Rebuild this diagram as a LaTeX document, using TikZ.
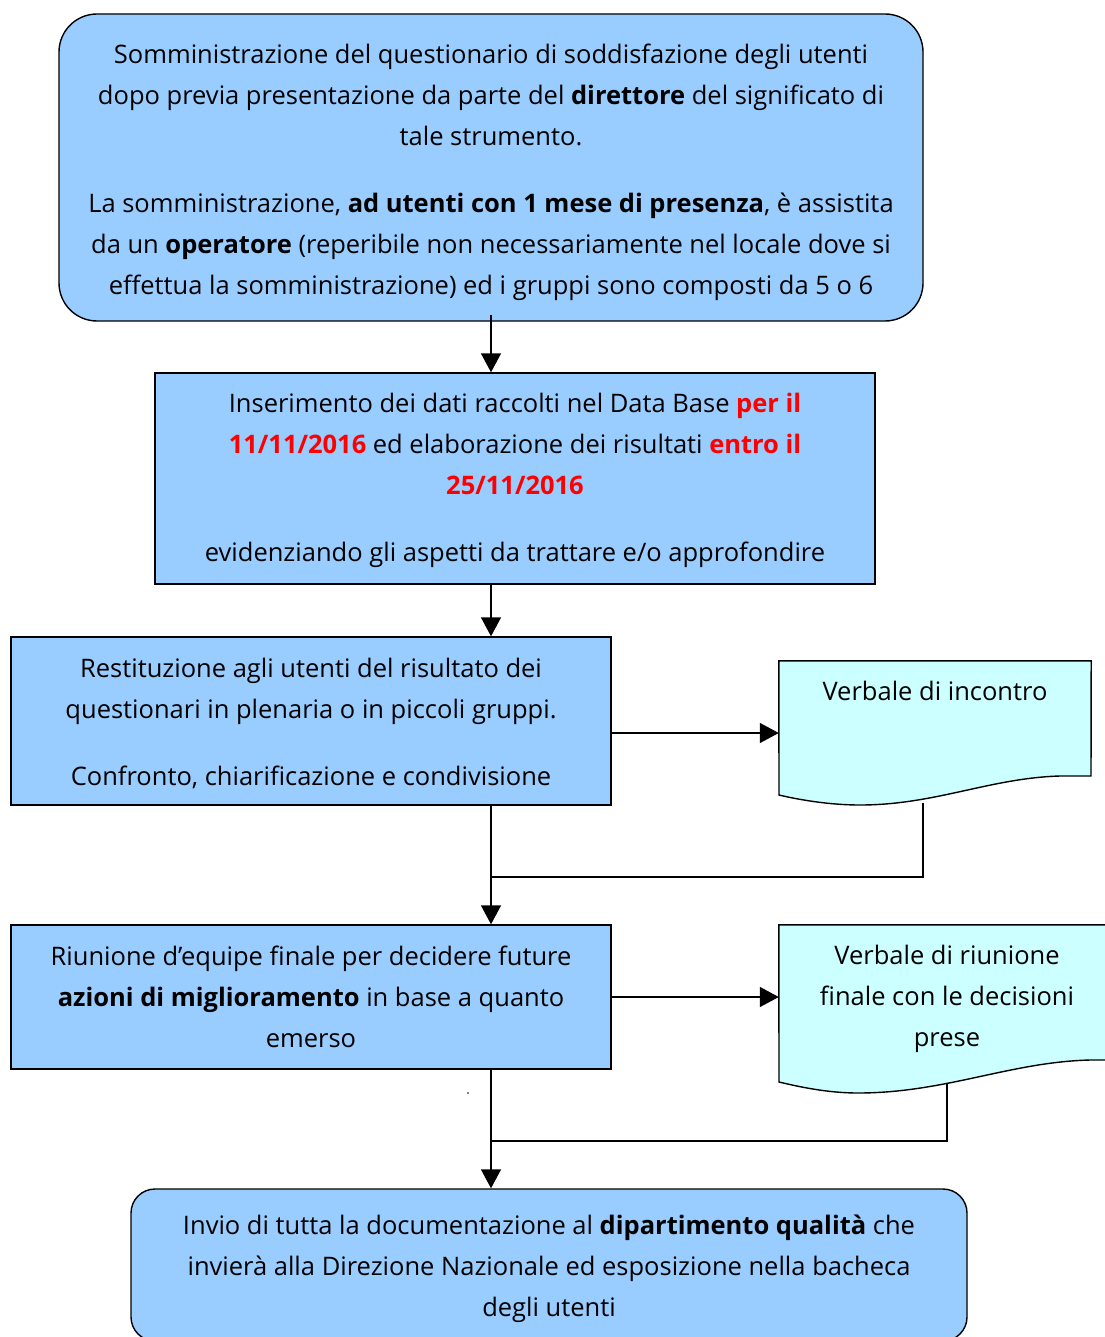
\documentclass[tikz,border=0pt]{standalone}
\usepackage{fontspec}
\setmainfont{Open Sans}
\usetikzlibrary{arrows.meta}
\definecolor{boxblue}{HTML}{99CCFF}
\definecolor{doccyan}{HTML}{CCFFFF}
\definecolor{datered}{HTML}{FF0000}
\newcommand{\rd}[1]{\textcolor{datered}{\textbf{#1}}}
\begin{document}
\begin{tikzpicture}[x=1pt,y=-1pt,
  txt/.style={align=center, inner sep=0pt, font=\fontsize{25.5}{41}\selectfont},
  box/.style={draw=black, line width=1.4pt, fill=boxblue, inner sep=0pt},
  docframe/.style={draw=none, inner sep=0pt},
  docshape/.style={draw=black, line width=1.4pt, fill=doccyan},
  conn/.style={line width=1.4pt},
  arr/.style={conn, -{Triangle[width=20pt,length=19pt]}}]
\useasboundingbox (0,0) rectangle (1104,1337);

% main boxes
\node[box, rounded corners=38pt, minimum width=864pt, minimum height=307pt] (a) at (491,167.5) {};
\node[txt] (at) at ([yshift=-5pt]a.center)
 {Somministrazione del questionario di soddisfazione degli utenti\\
  dopo previa presentazione da parte del \textbf{direttore} del significato di\\
  tale strumento.\\[26pt]
  La somministrazione, \textbf{ad utenti con 1 mese di presenza}, è assistita\\
  da un \textbf{operatore} (reperibile non necessariamente nel locale dove si\\
  effettua la somministrazione) ed i gruppi sono composti da 5 o 6};

\node[box, minimum width=720pt, minimum height=211pt] (b) at (515,478.5) {};
\node[txt] (bt) at ([yshift=-2pt]b.center)
 {Inserimento dei dati raccolti nel Data Base \rd{per il}\\
  \rd{11/11/2016} ed elaborazione dei risultati \rd{entro il}\\
  \rd{25/11/2016}\\[26pt]
  evidenziando gli aspetti da trattare e/o approfondire};

\node[box, minimum width=600pt, minimum height=168pt] (c) at (311,721) {};
\node[txt] (ct) at ([yshift=-2pt]c.center)
 {Restituzione agli utenti del risultato dei\\
  questionari in plenaria o in piccoli gruppi.\\[26pt]
  Confronto, chiarificazione e condivisione};

\node[box, minimum width=600pt, minimum height=144pt] (e) at (311,997) {};
\node[txt] (et) at (e.center)
 {Riunione d’equipe finale per decidere future\\
  \textbf{azioni di miglioramento} in base a quanto\\
  emerso};

\node[box, rounded corners=24pt, minimum width=836pt, minimum height=152pt] (f) at (549,1265) {};
\node[txt] (ft) at ([yshift=-4pt]f.center)
 {Invio di tutta la documentazione al \textbf{dipartimento qualità} che\\
  invierà alla Direzione Nazionale ed esposizione nella bacheca\\
  degli utenti};

% document shapes
\node[docframe, minimum width=312pt, minimum height=144pt] (d1) at (935,733) {};
\draw[docshape] (d1.north west) -- (d1.north east) -- (1091,776) -- (1060,776)
  .. controls (990,778) and (935,805) .. (860,805)
  .. controls (830,805) and (800,800) .. (779,795) -- cycle;
\node[txt, anchor=base] (d1t) at (935,700) {Verbale di incontro};

\node[docframe, minimum width=336pt, minimum height=168pt] (d2) at (947,1009) {};
\draw[docshape] (d2.north west) -- (d2.north east) -- (1115,1060) -- (1090,1060)
  .. controls (1010,1062) and (945,1093) .. (858,1093)
  .. controls (828,1093) and (800,1087) .. (779,1082) -- cycle;
\node[txt] (d2t) at (947,999) {Verbale di riunione\\ finale con le decisioni\\ prese};

% stray dot
\node[circle, fill=black, inner sep=0pt, minimum size=1.6pt] (dot) at (468,1093) {};

% connectors
\coordinate (d1b) at (923,803);
\coordinate (j1) at (491,877);
\coordinate (d2b) at (947,1083);
\coordinate (j2) at (491,1141);

\draw[arr] ([yshift=7pt]a.south) -- (a.south |- b.north);
\draw[arr] (a.south |- b.south) -- (a.south |- c.north);
\draw[arr] (c.east |- d1.west) -- (d1.west);
\draw[arr] (a.south |- c.south) -- (a.south |- e.north);
\draw[conn] (d1b) |- (j1);
\draw[arr] (e.east) -- (d2.west |- e.east);
\draw[arr] (a.south |- e.south) -- (a.south |- f.north);
\draw[conn] (d2b) |- (j2);
\end{tikzpicture}
\end{document}
